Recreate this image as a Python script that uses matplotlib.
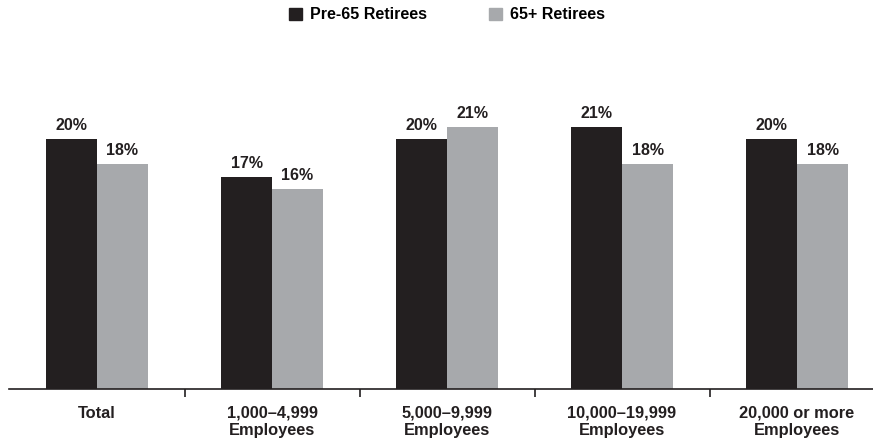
import numpy as np
import matplotlib.pyplot as plt
from matplotlib.patches import Patch

# data
categories = ["Total", "1,000\u20134,999\nEmployees", "5,000\u20139,999\nEmployees",
              "10,000\u201319,999\nEmployees", "20,000 or more\nEmployees"]
pre65 = [20, 17, 20, 21, 20]
post65 = [18, 16, 21, 18, 18]
series_names = ["Pre-65 Retirees", "65+ Retirees"]

dark = "#231f20"
grey = "#a7a9ac"

plt.rcParams['font.family'] = ['Liberation Sans', 'DejaVu Sans']

fig = plt.figure(figsize=(8.73, 4.46), dpi=100)
ax = fig.add_axes([9 / 873, 57 / 446, 864 / 873, 329 / 446])

x = np.arange(len(categories))
w = 0.291
b1 = ax.bar(x - w / 2, pre65, w, color=dark)
b2 = ax.bar(x + w / 2, post65, w, color=grey)

for bars, vals in ((b1, pre65), (b2, post65)):
	for r, v in zip(bars, vals):
		ax.annotate("%d%%" % v, (r.get_x() + r.get_width() / 2, v), xytext=(0, 4),
					textcoords="offset points", ha="center", va="bottom",
					fontsize=11.5, fontweight="bold", color=dark)

ax.set_xlim(-0.503, 4.434)
ax.set_ylim(0, 329 / 12.5)

for s in ("left", "right", "top"):
	ax.spines[s].set_visible(False)
ax.spines["bottom"].set_linewidth(1.2)
ax.spines["bottom"].set_color(dark)
ax.set_yticks([])

ax.set_xticks(x)
ax.set_xticklabels(categories, fontsize=11.8, fontweight="bold", color=dark, linespacing=1.2)
ax.tick_params(axis="x", which="major", length=0, pad=12)
ax.set_xticks(x[:-1] + 0.5, minor=True)
ax.tick_params(axis="x", which="minor", length=6, width=1.2, color=dark, direction="out")
for lbl in ax.get_xticklabels():
	lbl.set_verticalalignment("top")

handles = [Patch(color=dark), Patch(color=grey)]
fig.legend(handles, series_names, loc="upper center", bbox_to_anchor=(447 / 873, 1.005),
		   ncol=2, frameon=False, handlelength=0.81, handleheight=0.81,
		   handletextpad=0.5, columnspacing=3.9, borderaxespad=0.2,
		   prop={"weight": "bold", "size": 11.5})

fig.savefig("out.png", dpi=100)
